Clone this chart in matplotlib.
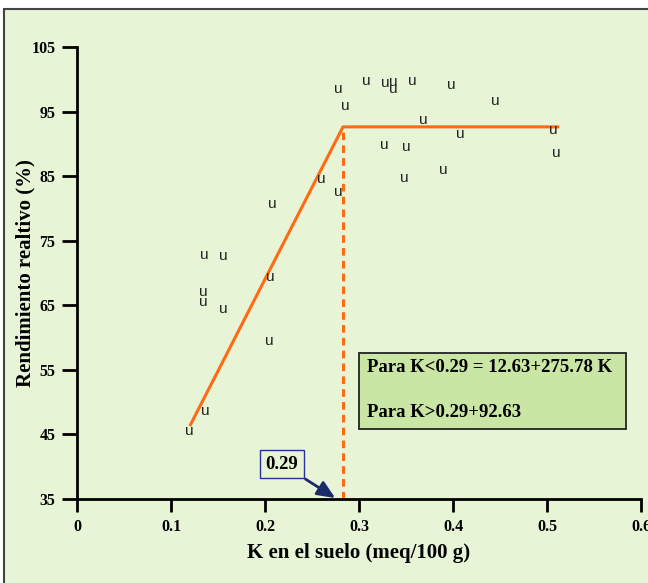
import matplotlib
matplotlib.use('Agg')
import matplotlib.pyplot as plt
from matplotlib.patches import Rectangle

# K en el suelo vs rendimiento relativo
k_suelo = [0.278, 0.3075, 0.328, 0.337, 0.336, 0.3566, 0.398, 0.2858, 0.445,
           0.3687, 0.4075, 0.5066, 0.3266, 0.350, 0.5104, 0.390, 0.348, 0.260,
           0.278, 0.2078, 0.1357, 0.156, 0.2057, 0.134, 0.1347, 0.156, 0.2047,
           0.1368, 0.1198]
rendimiento = [98.45, 99.73, 99.4, 99.6, 98.45, 99.73, 99.1, 95.86, 96.6,
               93.7, 91.5, 92.15, 89.8, 89.5, 88.6, 85.95, 84.7, 84.55,
               82.55, 80.7, 72.8, 72.6, 69.4, 67.05, 65.46, 64.4, 59.47,
               48.63, 45.58]

# modelo lineal-plateau
modelo_x = [0.12, 0.283, 0.513]
modelo_y = [46.3, 92.63, 92.63]
k_critico = 0.283

xticks = [0, 0.1, 0.2, 0.3, 0.4, 0.5, 0.6]
xlabels = ['0', '0.1', '0.2', '0.3', '0.4', '0.5', '0.6']
yticks = [35, 45, 55, 65, 75, 85, 95, 105]

naranja = '#FF6A13'
fondo = '#E8F4D6'
serif = 'Liberation Serif'

fig = plt.figure(figsize=(6.48, 5.83), dpi=100)
fig.patch.set_facecolor('white')
marco = Rectangle((4/648, -0.1), 1.2, 1.1 - 8.5/583, transform=fig.transFigure,
                  facecolor=fondo, edgecolor='#444444', linewidth=1.5, zorder=-10)
fig.patches.append(marco)

ax = fig.add_axes([77/648, 1 - 499/583, 564/648, 452/583])
ax.set_facecolor('none')
ax.set_xlim(0, 0.6)
ax.set_ylim(35, 105)

for xi, yi in zip(k_suelo, rendimiento):
    ax.text(xi, yi, 'u', ha='center', va='center', fontsize=11,
            family='Liberation Sans', color='#222222', zorder=3)

ax.plot(modelo_x, modelo_y, color=naranja, lw=2.2, zorder=2, solid_capstyle='butt')
ax.plot([k_critico, k_critico], [35, modelo_y[1]], color=naranja, lw=2.2,
        dashes=(2.5, 1.7), zorder=2)

for s in ['top', 'right']:
    ax.spines[s].set_visible(False)
for s in ['left', 'bottom']:
    ax.spines[s].set_linewidth(2)
    ax.spines[s].set_color('black')

ax.set_xticks(xticks)
ax.set_xticklabels(xlabels)
ax.set_yticks(yticks)
ax.tick_params(axis='y', direction='out', length=10.5, width=2, pad=5)
ax.tick_params(axis='x', direction='out', length=9.5, width=2, pad=5)
for lab in ax.get_xticklabels() + ax.get_yticklabels():
    lab.set_family(serif)
    lab.set_fontweight('bold')
    lab.set_fontsize(11.5)

ax.set_xlabel('K en el suelo (meq/100 g)', family=serif, fontweight='bold',
              fontsize=15, labelpad=6)
ax.set_ylabel('Rendimiento realtivo (%)', family=serif, fontweight='bold',
              fontsize=15, labelpad=-3)

# cuadro de ecuaciones
ax.add_patch(Rectangle((0.300, 45.84), 0.284, 11.82, facecolor='#CAE6A4',
                       edgecolor='#222222', lw=1.3, zorder=4, clip_on=False))
ax.text(0.3086, 54.6, 'Para K<0.29 = 12.63+275.78 K', family=serif, fontweight='bold',
        fontsize=13.5, va='baseline', ha='left', zorder=5)
ax.text(0.3086, 47.7, 'Para K>0.29+92.63', family=serif, fontweight='bold',
        fontsize=13.5, va='baseline', ha='left', zorder=5)

ax.annotate('0.29', xy=(0.2747, 35.15), xytext=(0.2179, 40.42),
            ha='center', va='center', family=serif, fontweight='bold', fontsize=13.5,
            bbox=dict(boxstyle='square,pad=0.3', facecolor=fondo, edgecolor='#2B2F9A', lw=1),
            arrowprops=dict(arrowstyle='-|>,head_length=0.8,head_width=0.35',
                            color='#1B2A6B', lw=2, shrinkA=1, shrinkB=0),
            zorder=5)

fig.savefig('out.png', dpi=100)
